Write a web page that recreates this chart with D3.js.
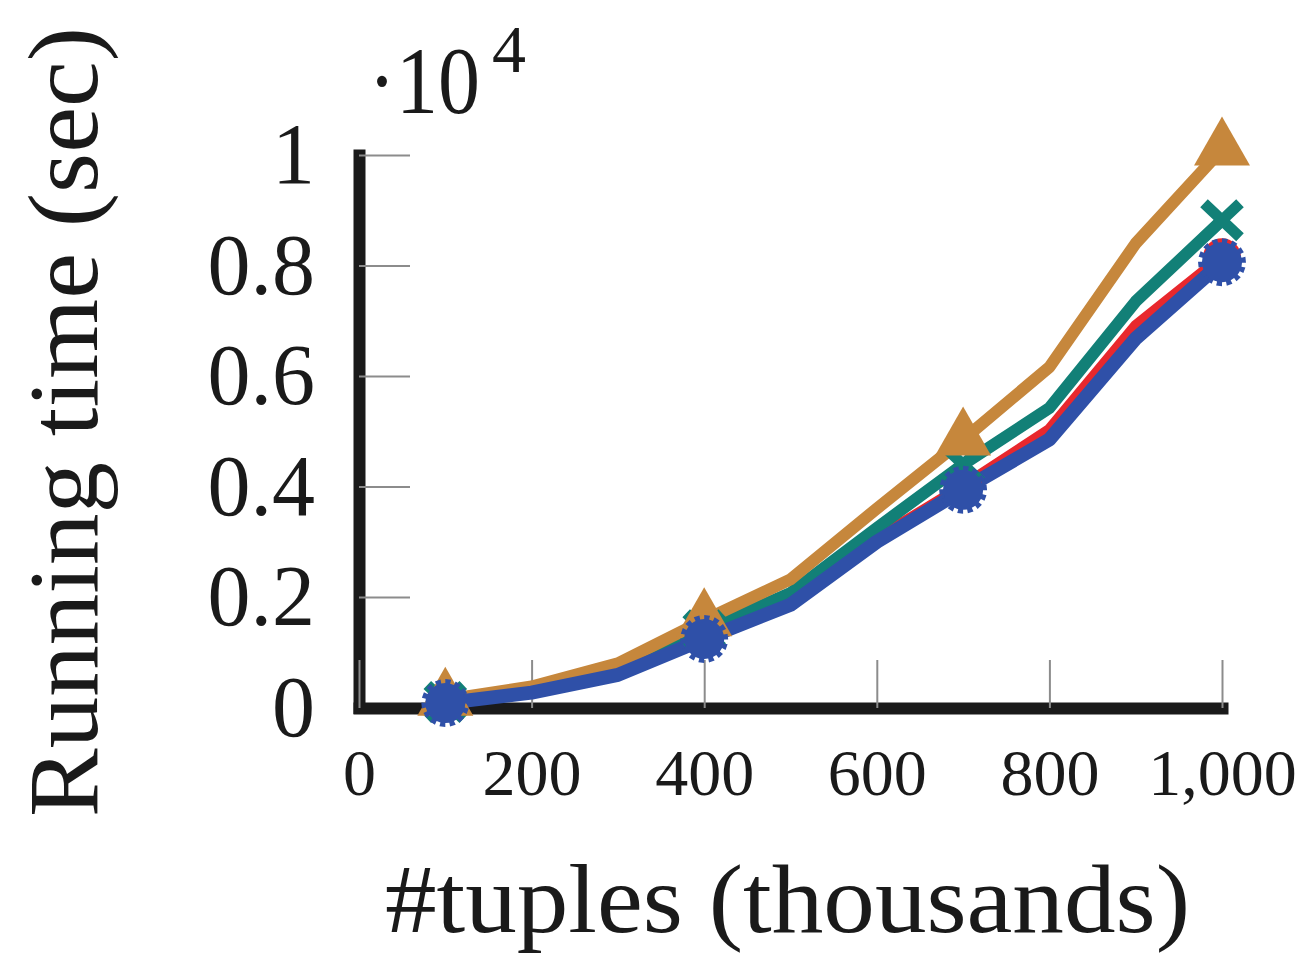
<!DOCTYPE html>
<html>
<head>
<meta charset="utf-8">
<script src="https://cdn.jsdelivr.net/npm/d3@7"></script>
<style>
  body { margin: 0; background: #fff; }
  svg text { font-family: "Liberation Serif", "DejaVu Serif", serif; fill: #1a1a1a; }
</style>
</head>
<body>
<div id="main"></div>
<script>
// values (seconds)
const tuples = [100, 200, 300, 400, 500, 600, 700, 800, 900, 1000];
const orangeTimes = [140, 380, 800, 1580, 2320, 3600, 4850, 6160, 8400, 10100];
const tealTimes = [100, 330, 720, 1400, 2070, 3250, 4400, 5420, 7350, 8820];
const redTimes = [80, 290, 620, 1280, 1900, 3050, 4000, 5020, 6900, 8150];
const blueTimes = [80, 270, 590, 1240, 1860, 3000, 3940, 4850, 6680, 8060];

const xTicks = [0, 200, 400, 600, 800, 1000];
const yTicks = [0, 2000, 4000, 6000, 8000, 10000];

const width = 1311;
const height = 971;

const svg = d3.select("#main")
  .append("svg")
  .attr("width", width)
  .attr("height", height);

const x = d3.scaleLinear().domain([0, 1000]).range([359, 1222]);
const y = d3.scaleLinear().domain([0, 10000]).range([707.5, 155]);

// axes
const yAxis = d3.axisLeft(y)
  .tickValues(yTicks)
  .tickSize(-51)
  .tickSizeOuter(0)
  .tickPadding(44)
  .tickFormat(d => d3.format("~g")(d / 1e4));

const xAxis = d3.axisBottom(x)
  .tickValues(xTicks)
  .tickSize(-48)
  .tickSizeOuter(0)
  .tickPadding(40)
  .tickFormat(d3.format(","));

const gy = svg.append("g")
  .attr("transform", "translate(359,0)")
  .call(yAxis);

const gx = svg.append("g")
  .attr("transform", "translate(0,708)")
  .call(xAxis);

[gx, gy].forEach(g => {
  g.selectAll(".tick line").attr("stroke", "#8c8c8c").attr("stroke-width", 2);
  g.select(".domain").attr("stroke", "#1a1a1a").attr("stroke-width", 12).attr("stroke-linecap", "square");
  g.selectAll("text").attr("fill", "#1a1a1a").style("font-family", "'Liberation Serif', serif");
});
gy.selectAll("text").attr("font-size", 86);
gx.selectAll("text").attr("font-size", 66);

// lines
const series = [
  { name: "red", values: redTimes, color: "#e8282d", width: 12 },
  { name: "teal", values: tealTimes, color: "#128077", width: 12 },
  { name: "orange", values: orangeTimes, color: "#c6873c", width: 12 },
  { name: "blue", values: blueTimes, color: "#2f50a8", width: 14 }
];

const line = d3.line()
  .x((d, i) => x(tuples[i]))
  .y(d => y(d));

const markIdx = [0, 3, 6, 9];

const gearPoints = [];
const teeth = 14;
for (let k = 0; k < teeth; k++) {
  const a0 = (k / teeth) * 2 * Math.PI;
  const step = (2 * Math.PI) / teeth;
  gearPoints.push([a0, 24]);
  gearPoints.push([a0 + step * 0.55, 24]);
  gearPoints.push([a0 + step * 0.55, 20]);
  gearPoints.push([a0 + step, 20]);
}
const gear = d3.lineRadial()
  .angle(d => d[0])
  .radius(d => d[1])
  .curve(d3.curveLinearClosed)(gearPoints);

series.forEach(s => {
  svg.append("path")
    .datum(s.values)
    .attr("fill", "none")
    .attr("stroke", s.color)
    .attr("stroke-width", s.width)
    .attr("stroke-linejoin", "round")
    .attr("d", line);
});

series.forEach(s => {
  const g = svg.append("g");
  markIdx.forEach(i => {
    const cx = x(tuples[i]);
    const cy = y(s.values[i]);
    const m = g.append("g").attr("transform", `translate(${cx},${cy})`);
    if (s.name === "orange") {
      m.append("path").attr("d", "M0,-33L-28,16L28,16Z").attr("fill", s.color);
    } else if (s.name === "teal") {
      m.append("path").attr("d", "M-18,-17L18,17M-18,17L18,-17")
        .attr("stroke", s.color).attr("stroke-width", 11).attr("fill", "none");
    } else if (s.name === "red") {
      m.append("circle").attr("r", 19).attr("fill", s.color);
    } else {
      m.append("path").attr("d", gear).attr("fill", s.color);
    }
  });
});

// titles
svg.append("text")
  .attr("transform", "rotate(-90)")
  .attr("x", -422)
  .attr("y", 97)
  .attr("text-anchor", "middle")
  .attr("font-size", 100)
  .attr("textLength", 790)
  .attr("lengthAdjust", "spacingAndGlyphs")
  .text("Running time (sec)");

svg.append("text")
  .attr("x", 385)
  .attr("y", 932)
  .attr("font-size", 98)
  .attr("textLength", 805)
  .attr("lengthAdjust", "spacingAndGlyphs")
  .text("#tuples (thousands)");

svg.append("text")
  .attr("x", 368)
  .attr("y", 113)
  .attr("font-size", 96)
  .attr("textLength", 112)
  .attr("lengthAdjust", "spacingAndGlyphs")
  .text("·10");

svg.append("text")
  .attr("x", 492)
  .attr("y", 72)
  .attr("font-size", 68)
  .text("4");
</script>
</body>
</html>
